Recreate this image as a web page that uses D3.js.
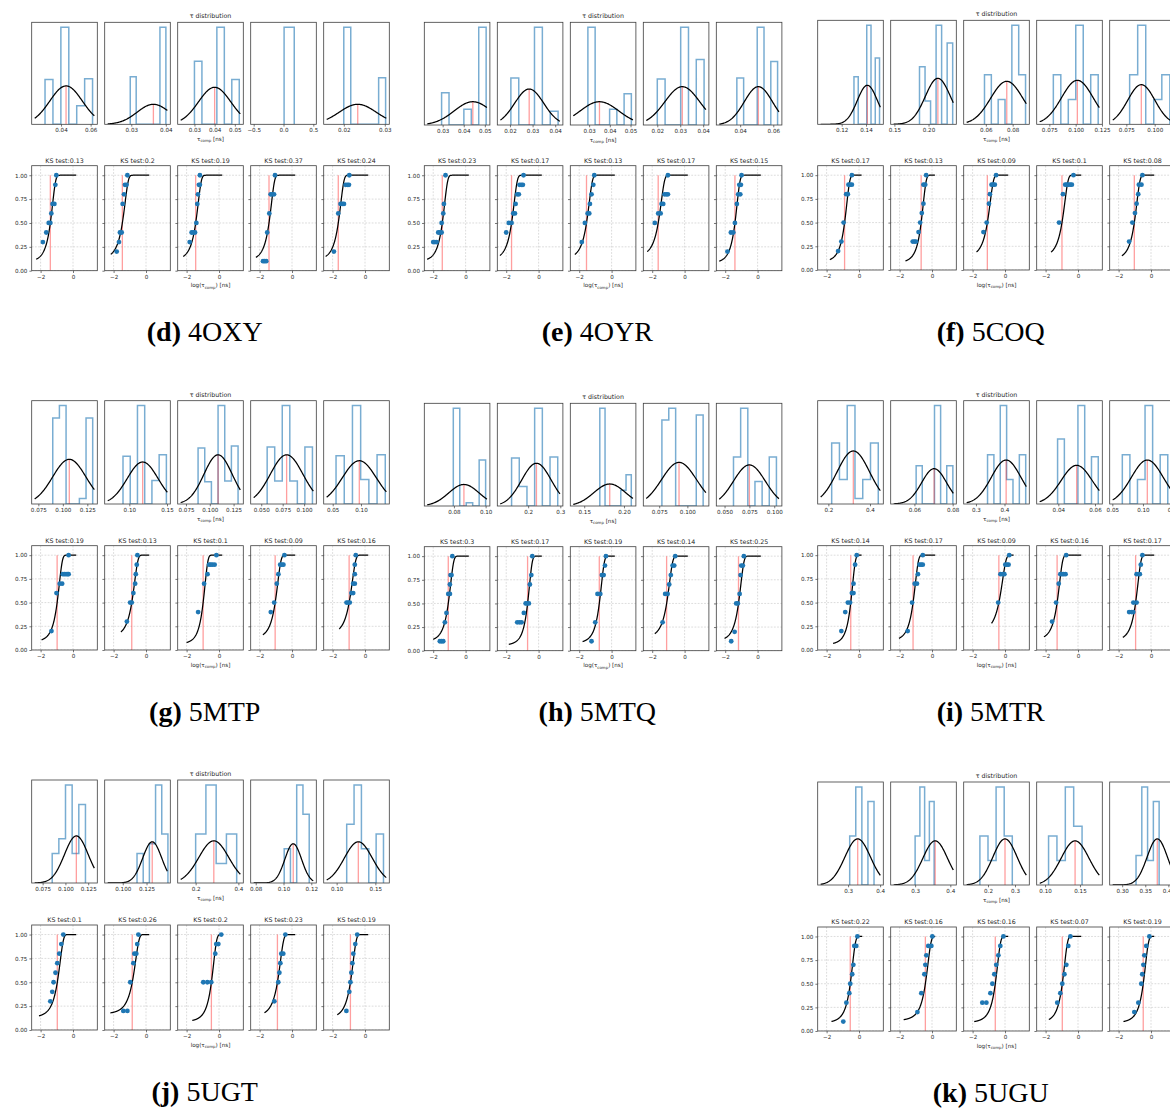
<!DOCTYPE html>
<html>
<head>
<meta charset="utf-8">
<script src="https://cdn.jsdelivr.net/npm/d3@7"></script>
<style>
  body { margin: 0; background: #fff; }
  svg { display: block; }
</style>
</head>
<body>
<svg id="fig" width="1170" height="1109"></svg>
<script>
// ---------------------------------------------------------------
// Per-structure fits of the compaction time τ_comp:
// top row = histogram of τ with a fitted gaussian,
// bottom row = empirical CDF of log(τ) with the fitted CDF and KS statistic.
// Every array below is indexed [structure][replica].
// ---------------------------------------------------------------
const structures = ["4OXY", "4OYR", "5COQ", "5MTP", "5MTQ", "5MTR", "5UGT", "5UGU"];
const panelTags  = ["d", "e", "f", "g", "h", "i", "j", "k"];

const ksStats = [
  [0.13, 0.2, 0.19, 0.37, 0.24],
  [0.23, 0.17, 0.13, 0.17, 0.15],
  [0.17, 0.13, 0.09, 0.1, 0.08],
  [0.19, 0.13, 0.1, 0.09, 0.16],
  [0.3, 0.17, 0.19, 0.14, 0.25],
  [0.14, 0.17, 0.09, 0.16, 0.17],
  [0.1, 0.26, 0.2, 0.23, 0.19],
  [0.22, 0.16, 0.16, 0.07, 0.19]
];

// histogram x-limits [ns]
const histLimits = [
  [[0.0202, 0.0645], [0.0223, 0.0413], [0.0217, 0.0542], [-0.55, 0.55], [0.0151, 0.0311]],
  [[0.0213, 0.0524], [0.0144, 0.0434], [0.0209, 0.0526], [0.0139, 0.0425], [0.0256, 0.0652]],
  [[0.1003, 0.1542], [0.1446, 0.2407], [0.0435, 0.0924], [0.063, 0.1253], [0.0603, 0.1182]],
  [[0.0682, 0.1352], [0.0673, 0.1544], [0.0663, 0.1352], [0.0377, 0.1142], [0.0341, 0.15]],
  [[0.0613, 0.1027], [0.1041, 0.308], [0.1325, 0.215], [0.0609, 0.1191], [0.0417, 0.1077]],
  [[0.1488, 0.464], [0.0476, 0.0819], [0.257, 0.487], [0.0282, 0.064], [0.0457, 0.1528]],
  [[0.063, 0.135], [0.081, 0.150], [0.116, 0.423], [0.0764, 0.1236], [0.0833, 0.168]],
  [[0.205, 0.41], [0.2306, 0.417], [0.11, 0.353], [0.088, 0.182], [0.273, 0.415]]
];

const histTicks = [
  [["0.04", "0.06"], ["0.03", "0.04"], ["0.03", "0.04", "0.05"], ["−0.5", "0.0", "0.5"], ["0.02", "0.03"]],
  [["0.03", "0.04", "0.05"], ["0.02", "0.03", "0.04"], ["0.03", "0.04", "0.05"], ["0.02", "0.03", "0.04"], ["0.04", "0.06"]],
  [["0.12", "0.14"], ["0.15", "0.20"], ["0.06", "0.08"], ["0.075", "0.100", "0.125"], ["0.075", "0.100"]],
  [["0.075", "0.100", "0.125"], ["0.10", "0.15"], ["0.075", "0.100", "0.125"], ["0.050", "0.075", "0.100"], ["0.05", "0.10"]],
  [["0.08", "0.10"], ["0.2", "0.3"], ["0.15", "0.20"], ["0.075", "0.100"], ["0.050", "0.075", "0.100"]],
  [["0.2", "0.4"], ["0.06", "0.08"], ["0.3", "0.4"], ["0.04", "0.06"], ["0.05", "0.10", "0.15"]],
  [["0.075", "0.100", "0.125"], ["0.100", "0.125"], ["0.2", "0.4"], ["0.08", "0.10", "0.12"], ["0.10", "0.15"]],
  [["0.3", "0.4"], ["0.3", "0.4"], ["0.2", "0.3"], ["0.10", "0.15"], ["0.30", "0.35", "0.40"]]
];

// first bin edge and bin width [ns]
const histBins = [
  [[0.0292, 0.00535], [0.0297, 0.00172], [0.0300, 0.0037], [0.01, 0.17], [0.0200, 0.0017]],
  [[0.0295, 0.00352], [0.0204, 0.00348], [0.0294, 0.0035], [0.0200, 0.0034], [0.0380, 0.0041]],
  [[0.1301, 0.0035], [0.1868, 0.0081], [0.0590, 0.0051], [0.0788, 0.0071], [0.0779, 0.0071]],
  [[0.0897, 0.0068], [0.0916, 0.0096], [0.0877, 0.007], [0.0569, 0.0088], [0.0559, 0.0145]],
  [[0.0796, 0.00408], [0.1485, 0.0239], [0.1696, 0.0066], [0.0774, 0.0061], [0.0590, 0.0072]],
  [[0.216, 0.0373], [0.0609, 0.0032], [0.3406, 0.0223], [0.0396, 0.0037], [0.0663, 0.01237]],
  [[0.0855, 0.0073], [0.1150, 0.0065], [0.20, 0.048], [0.1005, 0.0045], [0.113, 0.0095]],
  [[0.305, 0.019], [0.30, 0.0135], [0.17, 0.03], [0.105, 0.012], [0.33, 0.0125]]
];

// relative bin heights (density, tallest bin = 1)
const histHeights = [
  [[0.46, 0, 1, 0, 0.19, 0.47], [0.49, 0, 0, 0, 0, 1], [0.65, 0, 0, 1, 0, 0.46], [1], [1, 0, 0, 0, 0, 0.48]],
  [[0.33, 0, 0, 0.16, 0, 1], [0.48, 0, 0, 1, 0, 0.14], [1, 0, 0, 0.16, 0, 0.32], [0.47, 0, 0, 1, 0, 0.67], [0.48, 0, 0, 1, 0, 0.65]],
  [[0.48, 0, 0, 1, 0, 0.67], [0.58, 0.235, 0, 1, 0, 0.82], [0.5, 0, 0.25, 0, 1, 0.5], [0.5, 0, 0.25, 1, 0, 0.5], [0.5, 1, 0, 0.25, 0.5]],
  [[0.875, 1, 0, 0, 0.057, 0.875], [0.485, 0, 1, 0, 0.24, 0.5], [0.57, 0.225, 0, 1, 0.235, 0.59], [0.58, 0.235, 1, 0.235, 0, 0.58], [0.49, 0, 1, 0.25, 0, 0.5]],
  [[1, 0, 0.034, 0, 0.47], [0.49, 0.2, 0, 1, 0, 0.5], [1, 0, 0, 0, 0.16, 0.32], [0.88, 1, 0, 0, 0, 0.93], [0.5, 1, 0, 0.25, 0, 0.5]],
  [[0.62, 0.25, 1, 0.057, 0.25, 0.62], [0.39, 0, 0, 1, 0, 0.39], [0.5, 0, 1, 0.25, 0, 0.5], [0.66, 0, 0, 1, 0, 0.48], [0.5, 0, 0.25, 1, 0, 0.5]],
  [[0.3, 0.45, 1, 0.3, 0.8], [0.3, 0, 0.4, 1, 0.5], [0.5, 1, 0.2, 0.5], [0.35, 0, 1, 0.7], [0.6, 1, 0.35, 0, 0.5]],
  [[0.5, 1, 0, 0.85], [0.5, 1, 0.25, 0.85], [0.5, 0.25, 1, 0.5], [0.5, 0.25, 1, 0.6], [0.3, 1, 0.25, 0.85]]
];

// gaussian fit: mean, standard deviation, peak (same units as the bin heights)
const gaussMean = [
  [0.0434, 0.0364, 0.0400, null, 0.0234],
  [0.0443, 0.0285, 0.0350, 0.0309, 0.0510],
  [0.1411, 0.2137, 0.0756, 0.1016, 0.0882],
  [0.1066, 0.1177, 0.1087, 0.0796, 0.097],
  [0.0863, 0.2258, 0.1821, 0.0926, 0.075],
  [0.32, 0.0703, 0.4058, 0.05, 0.1071],
  [0.112, 0.131, 0.285, 0.107, 0.128],
  [0.33, 0.357, 0.263, 0.143, 0.376]
];
const gaussSd = [
  [0.011, 0.0047, 0.008, null, 0.0045],
  [0.0088, 0.0064, 0.0093, 0.0076, 0.0085],
  [0.0083, 0.0184, 0.012, 0.015, 0.012],
  [0.017, 0.0205, 0.0148, 0.019, 0.03],
  [0.0096, 0.046, 0.02, 0.0155, 0.016],
  [0.078, 0.0065, 0.052, 0.0085, 0.026],
  [0.013, 0.01, 0.07, 0.006, 0.018],
  [0.04, 0.035, 0.045, 0.02, 0.022]
];
const gaussPeak = [
  [0.395, 0.206, 0.381, null, 0.206],
  [0.238, 0.368, 0.238, 0.392, 0.392],
  [0.394, 0.464, 0.434, 0.444, 0.40],
  [0.454, 0.427, 0.50, 0.50, 0.44],
  [0.22, 0.437, 0.225, 0.446, 0.42],
  [0.539, 0.359, 0.447, 0.393, 0.447],
  [0.48, 0.42, 0.43, 0.4, 0.42],
  [0.47, 0.45, 0.47, 0.45, 0.47]
];

// ECDF: log(τ) of the fitted mean (red marker), CDF spread [ns], curve range in log(τ)
const ecdfMarker = [
  [-1.40, -1.46, -1.44, -1.42, -1.65],
  [-1.44, -1.67, -1.55, -1.63, -1.40],
  [-0.89, -0.67, -1.09, -0.99, -1.03],
  [-0.98, -0.88, -0.98, -1.04, -0.98],
  [-1.07, -0.68, -0.76, -1.11, -1.18],
  [-0.51, -1.17, -0.38, -1.29, -0.95],
  [-0.97, -0.85, -0.47, -0.90, -0.90],
  [-0.54, -0.41, -0.60, -0.97, -0.48]
];
const ecdfSpread = [
  [0.0293, 0.0296, 0.029, 0.0297, 0.018],
  [0.0272, 0.0174, 0.024, 0.022, 0.0277],
  [0.092, 0.146, 0.0726, 0.091, 0.0746],
  [0.075, 0.118, 0.067, 0.0758, 0.103],
  [0.064, 0.13, 0.121, 0.069, 0.0505],
  [0.192, 0.0504, 0.464, 0.040, 0.0845],
  [0.095, 0.147, 0.247, 0.116, 0.107],
  [0.21, 0.316, 0.186, 0.078, 0.243]
];
const ecdfRange = [
  [[-2.27, 0.2], [-2.18, 0.2], [-2.21, 0.2], [-2.23, 0.2], [-2.43, 0.2]],
  [[-2.37, 0.2], [-2.39, 0.2], [-2.27, 0.2], [-2.31, 0.2], [-2.37, 0.2]],
  [[-1.80, 0.16], [-1.64, 0.18], [-1.76, 0.2], [-1.66, 0.2], [-1.80, 0.2]],
  [[-1.94, 0.2], [-1.55, 0.2], [-2.0, 0.2], [-1.80, 0.2], [-1.59, 0.2]],
  [[-2.0, 0.2], [-1.84, 0.2], [-1.79, 0.2], [-1.84, 0.2], [-2.04, 0.2]],
  [[-1.60, 0.16], [-2.04, 0.2], [-0.83, 0.53], [-2.10, 0.2], [-1.74, 0.2]],
  [[-2.1, 0.2], [-2.2, 0.2], [-1.65, 0.2], [-1.7, 0.2], [-1.71, 0.2]],
  [[-1.7, 0.2], [-1.75, 0.2], [-1.9, 0.2], [-1.8, 0.2], [-1.7, 0.2]]
];

// empirical CDF points [log(τ), cumulative fraction]
const ecdfPoints = [
  [
    [[-1.86, 0.3], [-1.65, 0.4], [-1.5, 0.5], [-1.4, 0.5], [-1.34, 0.6], [-1.26, 0.7], [-1.15, 0.7], [-1.09, 0.9], [-1.03, 1.0]],
    [[-1.81, 0.2], [-1.67, 0.3], [-1.61, 0.4], [-1.5, 0.4], [-1.44, 0.7], [-1.36, 0.8], [-1.3, 0.9], [-1.2, 0.9], [-1.15, 1.0]],
    [[-1.81, 0.3], [-1.69, 0.4], [-1.59, 0.4], [-1.48, 0.4], [-1.40, 0.5], [-1.34, 0.7], [-1.30, 0.8], [-1.24, 0.9], [-1.18, 0.9], [-1.18, 1.0]],
    [[-1.79, 0.1], [-1.69, 0.1], [-1.59, 0.1], [-1.53, 0.4], [-1.40, 0.6], [-1.32, 0.8], [-1.22, 0.8], [-1.11, 0.8], [-1.05, 1.0]],
    [[-1.92, 0.2], [-1.65, 0.6], [-1.51, 0.7], [-1.40, 0.7], [-1.30, 0.7], [-1.20, 0.9], [-1.09, 0.9], [-0.99, 0.9], [-0.97, 1.0]]
  ],
  [
    [[-2.0, 0.3], [-1.9, 0.3], [-1.79, 0.3], [-1.69, 0.4], [-1.59, 0.4], [-1.48, 0.4], [-1.48, 0.5], [-1.38, 0.6], [-1.34, 0.7], [-1.24, 1.0]],
    [[-2.0, 0.4], [-1.84, 0.5], [-1.67, 0.5], [-1.57, 0.6], [-1.46, 0.6], [-1.42, 0.7], [-1.32, 0.8], [-1.22, 0.8], [-1.18, 0.9], [-1.07, 0.9], [-0.97, 0.9], [-0.93, 1.0]],
    [[-1.84, 0.3], [-1.65, 0.5], [-1.48, 0.6], [-1.38, 0.6], [-1.34, 0.7], [-1.24, 0.8], [-1.13, 0.9], [-1.07, 1.0]],
    [[-1.84, 0.5], [-1.63, 0.6], [-1.48, 0.6], [-1.42, 0.7], [-1.32, 0.7], [-1.24, 0.8], [-1.13, 0.8], [-1.03, 0.8], [-1.03, 1.0]],
    [[-1.86, 0.2], [-1.65, 0.4], [-1.5, 0.4], [-1.40, 0.5], [-1.28, 0.7], [-1.20, 0.8], [-1.07, 0.8], [-1.13, 0.9], [-1.03, 0.9], [-0.99, 1.0]]
  ],
  [
    [[-1.29, 0.2], [-1.09, 0.3], [-0.95, 0.5], [-0.79, 0.8], [-0.69, 0.8], [-0.65, 0.9], [-0.55, 0.9], [-0.44, 0.9], [-0.44, 1.0]],
    [[-1.19, 0.3], [-1.09, 0.3], [-0.99, 0.3], [-0.83, 0.4], [-0.73, 0.5], [-0.63, 0.6], [-0.53, 0.7], [-0.53, 0.9], [-0.42, 0.9], [-0.36, 1.0]],
    [[-1.33, 0.4], [-1.13, 0.5], [-0.99, 0.7], [-0.93, 0.8], [-0.83, 0.9], [-0.73, 0.9], [-0.63, 0.9], [-0.55, 1.0]],
    [[-1.17, 0.5], [-0.93, 0.8], [-0.79, 0.9], [-0.69, 0.9], [-0.59, 0.9], [-0.48, 0.9], [-0.38, 0.9], [-0.28, 1.0]],
    [[-1.35, 0.3], [-1.15, 0.5], [-0.99, 0.6], [-0.89, 0.7], [-0.79, 0.8], [-0.75, 0.9], [-0.59, 0.9], [-0.53, 1.0]]
  ],
  [
    [[-1.33, 0.2], [-1.02, 0.6], [-0.82, 0.7], [-0.67, 0.7], [-0.63, 0.8], [-0.53, 0.8], [-0.43, 0.8], [-0.33, 0.8], [-0.27, 0.8], [-0.27, 1.0]],
    [[-1.18, 0.3], [-0.98, 0.5], [-0.88, 0.5], [-0.78, 0.6], [-0.67, 0.7], [-0.63, 0.8], [-0.57, 0.9], [-0.53, 1.0]],
    [[-1.29, 0.4], [-0.92, 0.7], [-0.71, 0.8], [-0.61, 0.9], [-0.51, 0.9], [-0.41, 0.9], [-0.27, 0.9], [-0.16, 1.0]],
    [[-1.31, 0.4], [-1.10, 0.5], [-0.94, 0.7], [-0.84, 0.8], [-0.73, 0.9], [-0.63, 0.9], [-0.53, 0.9], [-0.47, 1.0]],
    [[-1.14, 0.5], [-1.04, 0.5], [-0.94, 0.5], [-0.84, 0.6], [-0.73, 0.6], [-0.73, 0.7], [-0.63, 0.7], [-0.63, 0.8], [-0.63, 0.9], [-0.57, 1.0]]
  ],
  [
    [[-1.59, 0.1], [-1.48, 0.1], [-1.38, 0.1], [-1.28, 0.3], [-1.18, 0.4], [-1.07, 0.6], [-0.97, 0.6], [-0.97, 0.7], [-0.93, 0.8], [-0.87, 0.8], [-0.82, 1.0]],
    [[-1.32, 0.3], [-1.18, 0.3], [-1.05, 0.3], [-0.91, 0.4], [-0.80, 0.5], [-0.70, 0.5], [-0.60, 0.5], [-0.54, 0.7], [-0.45, 0.8], [-0.39, 1.0]],
    [[-1.24, 0.1], [-1.01, 0.3], [-0.87, 0.6], [-0.70, 0.6], [-0.60, 0.8], [-0.49, 0.8], [-0.41, 0.9], [-0.35, 1.0]],
    [[-1.36, 0.3], [-1.20, 0.6], [-1.05, 0.6], [-0.95, 0.7], [-0.85, 0.8], [-0.74, 0.9], [-0.64, 0.9], [-0.58, 1.0]],
    [[-1.63, 0.1], [-1.42, 0.2], [-1.32, 0.5], [-1.22, 0.5], [-1.11, 0.6], [-1.05, 0.8], [-1.01, 0.9], [-0.91, 0.9], [-0.85, 1.0]]
  ],
  [
    [[-1.09, 0.2], [-0.85, 0.4], [-0.69, 0.5], [-0.55, 0.5], [-0.44, 0.6], [-0.34, 0.6], [-0.34, 0.7], [-0.24, 0.9], [-0.14, 1.0]],
    [[-1.50, 0.2], [-1.23, 0.5], [-1.07, 0.7], [-0.93, 0.7], [-0.87, 0.8], [-0.77, 0.9], [-0.67, 0.9], [-0.57, 0.9], [-0.57, 1.0]],
    [[-0.42, 0.5], [-0.28, 0.8], [-0.14, 0.8], [-0.04, 0.8], [0.02, 0.9], [0.12, 0.9], [0.22, 0.9], [0.26, 1.0]],
    [[-1.60, 0.3], [-1.35, 0.5], [-1.19, 0.7], [-1.09, 0.8], [-0.99, 0.8], [-0.89, 0.8], [-0.77, 0.8], [-0.73, 1.0]],
    [[-1.35, 0.4], [-1.19, 0.4], [-1.09, 0.4], [-1.09, 0.5], [-0.89, 0.5], [-0.89, 0.8], [-0.69, 0.8], [-0.63, 0.9], [-0.53, 1.0]]
  ],
  [
    [[-1.40, 0.3], [-1.28, 0.4], [-1.20, 0.5], [-1.08, 0.6], [-0.97, 0.7], [-0.85, 0.8], [-0.72, 0.9], [-0.60, 1.0]],
    [[-1.40, 0.2], [-1.15, 0.2], [-0.97, 0.5], [-0.78, 0.7], [-0.72, 0.8], [-0.60, 0.8], [-0.54, 0.9], [-0.47, 1.0]],
    [[-0.97, 0.5], [-0.72, 0.5], [-0.48, 0.5], [-0.23, 0.8], [-0.17, 0.9], [-0.04, 0.9], [0.14, 1.0]],
    [[-1.09, 0.3], [-0.85, 0.5], [-0.78, 0.6], [-0.72, 0.7], [-0.66, 0.8], [-0.54, 0.8], [-0.41, 1.0]],
    [[-1.15, 0.2], [-0.97, 0.4], [-0.90, 0.5], [-0.84, 0.6], [-0.78, 0.7], [-0.72, 0.8], [-0.60, 0.9], [-0.48, 1.0]]
  ],
  [
    [[-0.97, 0.1], [-0.78, 0.3], [-0.60, 0.4], [-0.54, 0.5], [-0.42, 0.6], [-0.35, 0.7], [-0.29, 0.9], [-0.17, 0.9], [-0.10, 1.0]],
    [[-0.90, 0.2], [-0.66, 0.4], [-0.47, 0.6], [-0.41, 0.7], [-0.35, 0.8], [-0.23, 0.9], [-0.04, 0.9], [0.02, 1.0]],
    [[-1.40, 0.3], [-1.15, 0.3], [-0.90, 0.4], [-0.78, 0.5], [-0.66, 0.6], [-0.54, 0.7], [-0.41, 0.8], [-0.29, 0.9], [-0.10, 1.0]],
    [[-1.28, 0.3], [-1.09, 0.4], [-0.97, 0.5], [-0.84, 0.6], [-0.72, 0.7], [-0.60, 0.9], [-0.47, 1.0]],
    [[-1.03, 0.2], [-0.78, 0.3], [-0.60, 0.5], [-0.54, 0.6], [-0.47, 0.7], [-0.41, 0.8], [-0.29, 0.9], [-0.10, 1.0]]
  ]
];

// ---------------------------------------------------------------
// layout
// ---------------------------------------------------------------
const colLeft = [31.7, 424.3, 817.7];
// [column, hist top, hist bottom, ecdf top, ecdf bottom]
const frames = [
  [0, 22.3, 124.3, 165.7, 270.7],
  [1, 22.3, 125.0, 165.7, 270.7],
  [2, 20.3, 124.3, 165.7, 270.0],
  [0, 400.7, 504.0, 545.7, 650.0],
  [1, 403.3, 506.0, 546.7, 650.7],
  [2, 400.7, 504.0, 545.7, 650.0],
  [0, 780.0, 883.0, 925.0, 1030.0],
  [2, 782.0, 885.0, 927.0, 1031.0]
];
const axW = 65.6, axStep = 73;
const ecdfXDomain = [-2.55, 1.5];
const ecdfYTicks = [0, 0.25, 0.5, 0.75, 1.0];
const ecdfXTicks = [-2, 0];

const TICK_FONT = 5.6, TITLE_FONT = 6.3, LABEL_FONT = 5.6;
const textColor = "#262626", spineColor = "#3d3d3d";
const histColor = "#1f77b4", dotColor = "#1f77b4", markColor = "#ff2a2a";

const svg = d3.select("#fig");
svg.append("rect").attr("width", 1170).attr("height", 1109).attr("fill", "#fff");
const defs = svg.append("defs");
let clipId = 0;

function erf(x) {
  const s = Math.sign(x); x = Math.abs(x);
  const t = 1 / (1 + 0.3275911 * x);
  const y = 1 - (((((1.061405429 * t - 1.453152027) * t) + 1.421413741) * t - 0.284496736) * t + 0.254829592) * t * Math.exp(-x * x);
  return s * y;
}
const normCdf = z => 0.5 * (1 + erf(z / Math.SQRT2));
const parseTick = s => parseFloat(s.replace("−", "-"));

function addClip(L, top, bot) {
  const id = "c" + (clipId++);
  defs.append("clipPath").attr("id", id)
    .append("rect").attr("x", L).attr("y", top).attr("width", axW).attr("height", bot - top);
  return "url(#" + id + ")";
}

function styleAxis(sel) {
  sel.selectAll("path.domain").remove();
  sel.selectAll(".tick line").attr("stroke", spineColor).attr("stroke-width", 0.7);
  sel.selectAll(".tick text").attr("fill", textColor)
    .style("font-family", "DejaVu Sans, sans-serif").style("font-size", TICK_FONT + "px");
}

function drawHist(p, k, L, top, bot) {
  const [a, b] = histLimits[p][k];
  const x = d3.scaleLinear().domain([a, b]).range([L, L + axW]);
  const hs = histHeights[p][k];
  const [e0, w] = histBins[p][k];
  const mu = gaussMean[p][k], sd = gaussSd[p][k], pk = gaussPeak[p][k];
  const ymax = Math.max(d3.max(hs), pk || 0) * 1.05;
  const y = d3.scaleLinear().domain([0, ymax]).range([bot, top]);
  const g = svg.append("g").attr("clip-path", addClip(L, top, bot));

  // step outline of the histogram
  const pts = [[e0, 0]].concat(hs.map((h, i) => [e0 + i * w, h]), [[e0 + hs.length * w, 0]]);
  g.append("path")
    .attr("d", d3.line().x(d => x(d[0])).y(d => y(d[1])).curve(d3.curveStepAfter)(pts))
    .attr("fill", "none").attr("stroke", histColor).attr("stroke-opacity", 0.6)
    .attr("stroke-width", 1.5).attr("stroke-linejoin", "miter");

  if (mu !== null) {
    const m = (b - a) * 0.05 / 1.1;
    const xs = d3.range(121).map(i => a + m + i * (b - a - 2 * m) / 120);
    const gauss = xs.map(v => [v, pk * Math.exp(-0.5 * ((v - mu) / sd) ** 2)]);
    g.append("line")
      .attr("x1", x(mu)).attr("x2", x(mu)).attr("y1", y(0)).attr("y2", y(pk))
      .attr("stroke", markColor).attr("stroke-opacity", 0.45).attr("stroke-width", 1.3);
    g.append("path")
      .attr("d", d3.line().x(d => x(d[0])).y(d => y(d[1]))(gauss))
      .attr("fill", "none").attr("stroke", "#000").attr("stroke-width", 1.25);
  }

  const ticks = histTicks[p][k];
  const ax = svg.append("g").attr("transform", `translate(0,${bot})`)
    .call(d3.axisBottom(x).tickValues(ticks.map(parseTick)).tickFormat((d, i) => ticks[i]).tickSize(2.3).tickPadding(1.8));
  styleAxis(ax);

  svg.append("rect").attr("x", L).attr("y", top).attr("width", axW).attr("height", bot - top)
    .attr("fill", "none").attr("stroke", spineColor).attr("stroke-width", 0.8);
}

function drawEcdf(p, k, L, top, bot) {
  const x = d3.scaleLinear().domain(ecdfXDomain).range([L, L + axW]);
  const y = d3.scaleLinear().domain([0, 1.1]).range([bot, top]);
  const g = svg.append("g").attr("clip-path", addClip(L, top, bot));

  // dashed grid
  g.selectAll("line.gx").data(ecdfXTicks).join("line")
    .attr("x1", d => x(d)).attr("x2", d => x(d)).attr("y1", top).attr("y2", bot)
    .attr("stroke", "#b9b9b9").attr("stroke-width", 0.5).attr("stroke-dasharray", "1.8,1.4");
  g.selectAll("line.gy").data(ecdfYTicks).join("line")
    .attr("x1", L).attr("x2", L + axW).attr("y1", d => y(d)).attr("y2", d => y(d))
    .attr("stroke", "#b9b9b9").attr("stroke-width", 0.5).attr("stroke-dasharray", "1.8,1.4");

  const mark = ecdfMarker[p][k], spread = ecdfSpread[p][k];
  const [c0, c1] = ecdfRange[p][k];
  const centre = Math.pow(10, mark);
  const xs = d3.range(151).map(i => c0 + i * (c1 - c0) / 150);
  const cdf = xs.map(v => [v, normCdf((Math.pow(10, v) - centre) / spread)]);

  g.append("line")
    .attr("x1", x(mark)).attr("x2", x(mark)).attr("y1", y(0)).attr("y2", y(1))
    .attr("stroke", markColor).attr("stroke-opacity", 0.45).attr("stroke-width", 1.3);
  g.append("path")
    .attr("d", d3.line().x(d => x(d[0])).y(d => y(d[1]))(cdf))
    .attr("fill", "none").attr("stroke", "#000").attr("stroke-width", 1.25);
  g.selectAll("circle").data(ecdfPoints[p][k]).join("circle")
    .attr("cx", d => x(d[0])).attr("cy", d => y(d[1])).attr("r", 2.4)
    .attr("fill", dotColor);

  const axB = svg.append("g").attr("transform", `translate(0,${bot})`)
    .call(d3.axisBottom(x).tickValues(ecdfXTicks).tickFormat(d => d < 0 ? "−" + Math.abs(d) : d).tickSize(2.3).tickPadding(1.8));
  styleAxis(axB);
  const axL = svg.append("g").attr("transform", `translate(${L},0)`)
    .call(d3.axisLeft(y).tickValues(ecdfYTicks).tickFormat(d => k === 0 ? d3.format(".2f")(d) : "").tickSize(2.3).tickPadding(2));
  styleAxis(axL);

  svg.append("rect").attr("x", L).attr("y", top).attr("width", axW).attr("height", bot - top)
    .attr("fill", "none").attr("stroke", spineColor).attr("stroke-width", 0.8);

  svg.append("text").attr("x", L + axW / 2).attr("y", top - 3.2)
    .attr("text-anchor", "middle").attr("fill", textColor)
    .style("font-family", "DejaVu Sans, sans-serif").style("font-size", TITLE_FONT + "px")
    .text("KS test:" + ksStats[p][k]);
}

function subLabel(x, yPos, before, after) {
  const t = svg.append("text").attr("x", x).attr("y", yPos).attr("text-anchor", "middle")
    .attr("fill", textColor).style("font-family", "DejaVu Sans, sans-serif").style("font-size", LABEL_FONT + "px");
  t.append("tspan").text(before);
  t.append("tspan").attr("dy", 1.3).style("font-size", (LABEL_FONT * 0.7) + "px").text("comp");
  t.append("tspan").attr("dy", -1.3).text(after);
}

structures.forEach((name, p) => {
  const [col, hTop, hBot, eTop, eBot] = frames[p];
  const left0 = colLeft[col];
  for (let k = 0; k < 5; k++) {
    const L = left0 + k * axStep;
    drawHist(p, k, L, hTop, hBot);
    drawEcdf(p, k, L, eTop, eBot);
  }
  const mid = left0 + 2 * axStep + axW / 2;
  svg.append("text").attr("x", mid).attr("y", hTop - 4)
    .attr("text-anchor", "middle").attr("fill", textColor)
    .style("font-family", "DejaVu Sans, sans-serif").style("font-size", TITLE_FONT + "px")
    .text("τ distribution");
  subLabel(mid, hBot + 16.5, "τ", " [ns]");
  subLabel(mid, eBot + 16.5, "log(τ", ") [ns]");

  const cap = svg.append("text").attr("x", left0 + 173).attr("y", eBot + 70.5)
    .attr("text-anchor", "middle").attr("fill", "#000")
    .style("font-family", "Liberation Serif, serif").style("font-size", "28px");
  cap.append("tspan").style("font-weight", "bold").text("(" + panelTags[p] + ")");
  cap.append("tspan").text(" " + name);
});
</script>
</body>
</html>
